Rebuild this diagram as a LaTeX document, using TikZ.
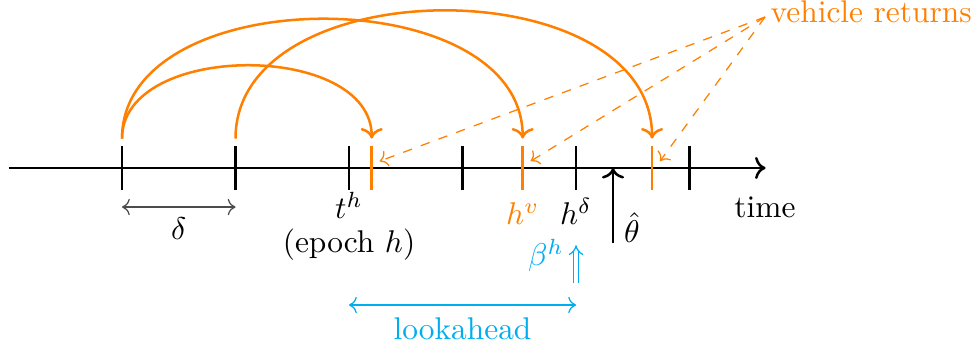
\documentclass[tikz,border=0pt]{standalone}
\usepackage{amsmath, amssymb}
\usepackage{tikz}
\usetikzlibrary{arrows.meta,calc,positioning}
\definecolor{retorange}{RGB}{255,128,0}
\definecolor{lookblue}{RGB}{0,174,239}

\begin{document}
\begin{tikzpicture}[x=0.5in,y=0.5in,
  tickmark/.style={thick},
  retarc/.style={thick,retorange,->,out=90,in=90},
  pointer/.style={->,retorange,dashed},
  span/.style={<->,gray!60!black},
  lbl/.style={anchor=base}]

\useasboundingbox (-0.075,-1.595) rectangle (8.524,1.48);

% time axis
\coordinate (start) at (0,0);
\coordinate (end) at (6.67,0);
\draw[thick,->] (start) -- (end);
\foreach \i in {1,...,6}
  \draw[tickmark] (\i,-0.19) coordinate (b\i) -- (\i,0.19) coordinate (t\i);

% return times
\foreach \n/\x in {r1/3.2,r2/4.53,r3/5.67}
  \draw[tickmark,retorange] (\x,-0.19) coordinate (\n b) -- (\x,0.19) coordinate (\n t);

\draw[retarc] ([yshift=2.5pt]t1) to ([yshift=2.5pt]r1t);
\draw[retarc,looseness=1.02] ([yshift=2.5pt]t1) to ([yshift=2.5pt]r2t);
\draw[retarc,looseness=1.05] ([yshift=2.5pt]t2) to ([yshift=2.5pt]r3t);

\node[retorange,anchor=base west] (vr) at (6.617,1.286) {vehicle returns};
\coordinate (vrpt) at (6.665,1.33);
\foreach \n in {r1,r2,r3}
  \draw[pointer] (vrpt) -- ([shift={(0.07,-0.13)}]\n t);

% labels under the axis
\node[lbl] (th) at (3,-0.449) {$t^h$};
\node[lbl] (epoch) at (3,-0.749) {(epoch $h$)};
\node[lbl,retorange] (hv) at (4.53,-0.5) {$h^v$};
\node[lbl] (hd) at (5,-0.5) {$h^\delta$};
\node[lbl] (time) at (6.665,-0.432) {time};

% delta
\coordinate (d1) at (1,-0.344);
\coordinate (d2) at (2,-0.344);
\draw[span] (d1) -- (d2);
\node[lbl] (delta) at (1.5,-0.634) {$\delta$};

% theta hat
\coordinate (thbot) at (5.326,-0.66);
\coordinate (thtop) at (5.326,0);
\draw[thick,->] (thbot) -- (thtop);
\node[anchor=base west] (theta) at (thbot) {$\hat{\theta}$};

% beta
\coordinate (bbot) at (5,-1.01);
\coordinate (btop) at (5,-0.68);
\draw[lookblue,double,double distance=1.2pt,-{Implies}] (bbot) -- (btop);
\node[lbl,lookblue] (beta) at (4.735,-0.863) {$\beta^h$};

% lookahead
\coordinate (l1) at (3,-1.207);
\coordinate (l2) at (5,-1.207);
\draw[<->,lookblue] (l1) -- (l2);
\node[lbl,lookblue] (look) at (4,-1.507) {lookahead};
\end{tikzpicture}
\end{document}
